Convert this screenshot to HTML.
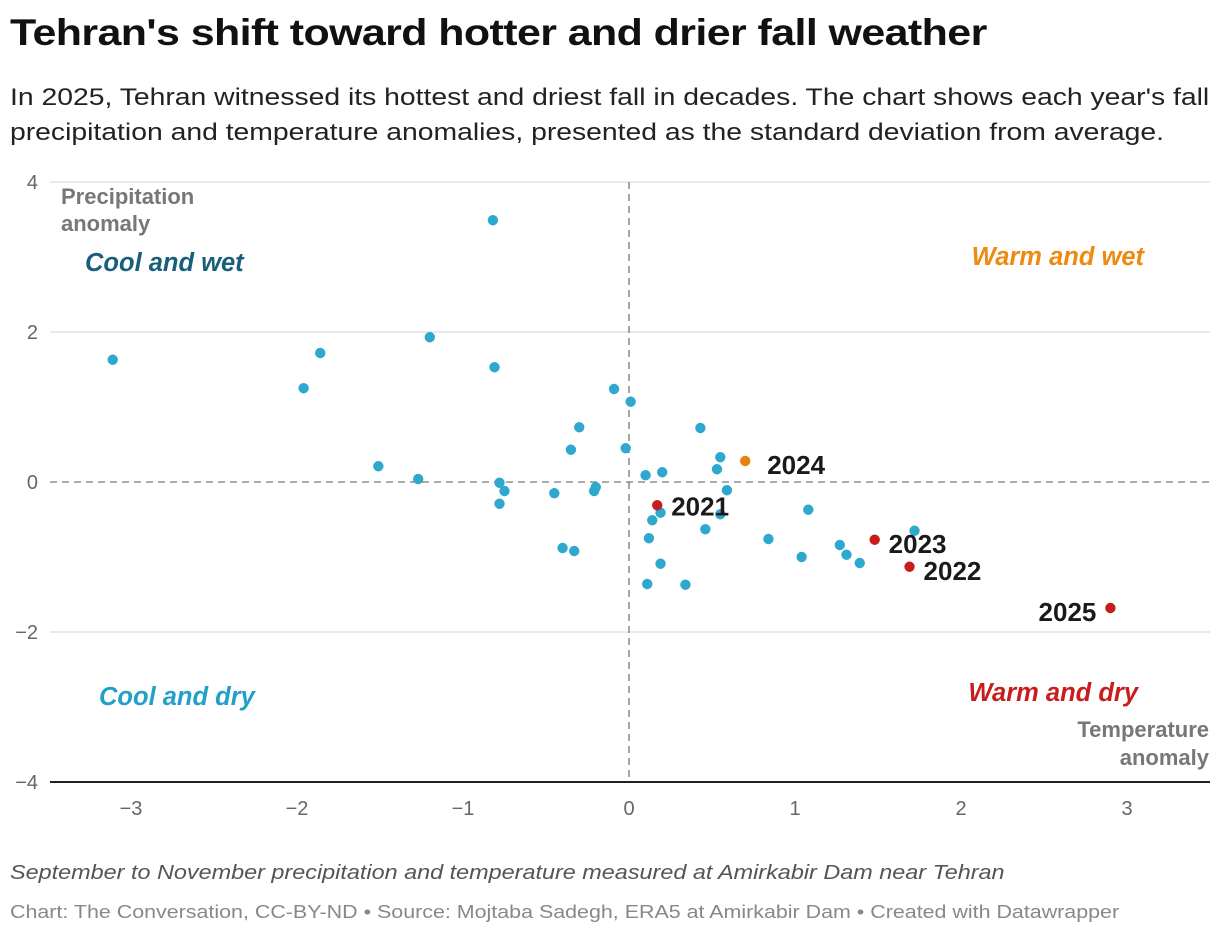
<!DOCTYPE html>
<html><head><meta charset="utf-8"><style>
body{margin:0;background:#fff;font-family:"Liberation Sans",sans-serif;width:1220px;height:936px;overflow:hidden;position:relative}
.t,.s,.n,.c{position:absolute;left:10px;transform-origin:0 0;white-space:nowrap}
.t{top:12px;font-size:37px;font-weight:bold;color:#111;letter-spacing:-0.5px;transform:scaleX(1.16)}
.s{top:80px;font-size:24px;line-height:35px;color:#222;transform:scaleX(1.18)}
.n{top:862px;font-size:20px;font-style:italic;color:#555;transform:scaleX(1.17)}
.c{top:902px;font-size:18px;color:#888;transform:scaleX(1.19)}
svg{position:absolute;left:0;top:0}
</style></head><body>
<div class="t">Tehran's shift toward hotter and drier fall weather</div>
<div class="s">In 2025, Tehran witnessed its hottest and driest fall in decades. The chart shows each year's fall<br>precipitation and temperature anomalies, presented as the standard deviation from average.</div>
<svg id="ch" width="1220" height="936"></svg>
<div class="n">September to November precipitation and temperature measured at Amirkabir Dam near Tehran</div>
<div class="c">Chart: The Conversation, CC-BY-ND • Source: Mojtaba Sadegh, ERA5 at Amirkabir Dam • Created with Datawrapper</div>
<script>
const xs=[-0.82,-3.11,-1.86,-1.96,-1.20,-0.81,-0.09,0.01,0.43,-0.30,-0.35,-0.02,0.55,0.53,0.20,0.10,-1.51,-1.27,-0.78,-0.75,-0.78,-0.45,-0.20,-0.21,0.59,0.19,0.14,0.55,1.08,0.46,0.12,0.84,1.72,1.27,1.31,1.39,1.04,-0.40,-0.33,0.19,0.11,0.34];
const ys=[3.49,1.63,1.72,1.25,1.93,1.53,1.24,1.07,0.72,0.73,0.43,0.45,0.33,0.17,0.13,0.09,0.21,0.04,-0.01,-0.12,-0.29,-0.15,-0.07,-0.12,-0.11,-0.41,-0.51,-0.43,-0.37,-0.63,-0.75,-0.76,-0.65,-0.84,-0.97,-1.08,-1.00,-0.88,-0.92,-1.09,-1.36,-1.37];
const hlYears=["2024","2021","2023","2022","2025"];
const hlX=[0.70,0.17,1.48,1.69,2.90];
const hlY=[0.28,-0.31,-0.77,-1.13,-1.68];
const xTicks=[-3,-2,-1,0,1,2,3];
const yTicks=[4,2,0,-2,-4];
const X=v=>629+v*166, Y=v=>482-v*75;
const svg=document.getElementById('ch'),NS='http://www.w3.org/2000/svg';
function mk(t,a,p){const e=document.createElementNS(NS,t);for(const k in a)e.setAttribute(k,a[k]);(p||svg).appendChild(e);return e;}
yTicks.forEach(v=>{
 const l=mk('line',{x1:50,x2:1210,y1:Y(v),y2:Y(v),stroke:v==-4?'#222':(v==0?'#777':'#ddd'),'stroke-width':v==-4?2:1.3,'stroke-dasharray':v==0?'7,5':''});
 
 
 const t=mk('text',{x:38,y:Y(v)+7,'text-anchor':'end','font-size':20,fill:'#666'});t.textContent=v<0?'−'+(-v):v;
 
 
});
const zl=mk('line',{x1:X(0),x2:X(0),y1:182,y2:781,stroke:'#777','stroke-width':1.3,'stroke-dasharray':'7,5'});


xTicks.forEach(v=>{
 const t=mk('text',{x:X(v),y:815,'text-anchor':'middle','font-size':20,fill:'#666'});t.textContent=v<0?'−'+(-v):v;
 
 
});
function lbl(x,y,txt,st,name){const t=mk('text',Object.assign({x:x,y:y},st));t.textContent=txt;
 
 return t;}
lbl(61,204,'Precipitation',{'font-size':22,'font-weight':'bold',fill:'#777'},'y-axis-title');
lbl(61,231,'anomaly',{'font-size':22,'font-weight':'bold',fill:'#777'},'y-axis-title');
lbl(1209,737,'Temperature',{'font-size':22,'font-weight':'bold',fill:'#777','text-anchor':'end'},'x-axis-title');
lbl(1209,765,'anomaly',{'font-size':22,'font-weight':'bold',fill:'#777','text-anchor':'end'},'x-axis-title');
lbl(85,271,'Cool and wet',{'font-size':25.5,'font-weight':'bold','font-style':'italic',fill:'#1a5f7a'},'quadrant-cool-wet');
lbl(1144,265,'Warm and wet',{'font-size':25.5,'font-weight':'bold','font-style':'italic',fill:'#ee8a10','text-anchor':'end'},'quadrant-warm-wet');
lbl(99,705,'Cool and dry',{'font-size':25.5,'font-weight':'bold','font-style':'italic',fill:'#22a0c8'},'quadrant-cool-dry');
lbl(1138,701,'Warm and dry',{'font-size':25.5,'font-weight':'bold','font-style':'italic',fill:'#c71e1d','text-anchor':'end'},'quadrant-warm-dry');
xs.forEach((v,i)=>{const c=mk('circle',{cx:X(v),cy:Y(ys[i]),r:5.2,fill:'#2fa8cf'});
 
 });
hlYears.forEach((yr,i)=>{
 const c=mk('circle',{cx:X(hlX[i]),cy:Y(hlY[i]),r:5.2,fill:yr=='2024'?'#e8820c':'#c71e1d'});
 
 
 const right=yr!='2025';
 lbl(X(hlX[i])+(right?(yr=='2024'?22:14):-14),Y(hlY[i])+(yr=='2021'?10:13),yr,{'font-size':26,'font-weight':'bold',fill:'#1a1a1a','text-anchor':right?'start':'end'},'label-'+yr);
});
</script>
</body></html>
